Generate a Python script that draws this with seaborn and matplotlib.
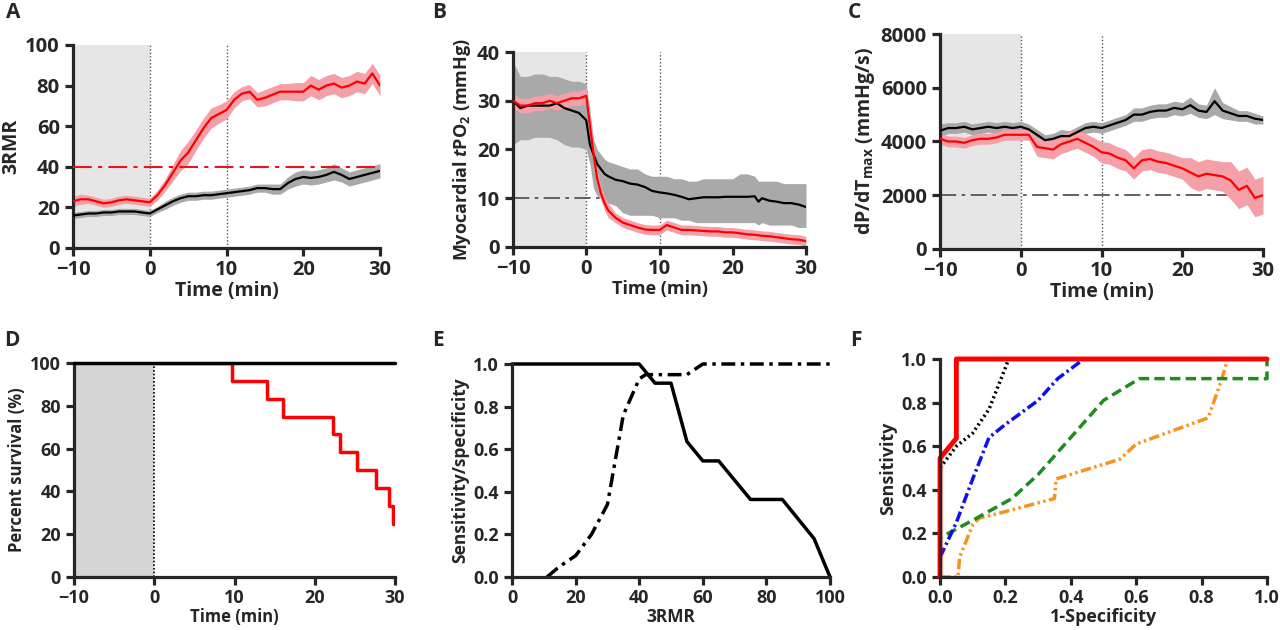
import matplotlib
matplotlib.use("Agg")
import matplotlib.pyplot as plt
import seaborn as sns

# ---- Data ----
# A: 3RMR over time (mean and SEM half-width)
t_a = [-10, -9, -8, -7, -6, -5, -4, -3, -2, -1, 0, 1, 2, 3, 4, 5, 6, 7, 8, 9, 10,
       11, 12, 13, 14, 15, 16, 17, 18, 19, 20, 21, 22, 23, 24, 25, 26, 27, 28, 29, 30]
red_a = [23, 24, 24, 23, 22, 22.5, 23.5, 24, 23.5, 23, 22.5, 26, 31, 37, 43, 47, 53, 59, 64, 66, 68,
         73, 76, 77, 73, 74, 75.5, 77, 77, 77, 77, 80, 78, 80, 81, 79, 80, 82, 81, 86, 80]
red_a_err = [2.5, 2.5, 2, 2, 2, 2, 2, 2, 2, 2, 2, 2.5, 3, 4, 5, 5.5, 5, 5, 5, 4.5, 4.5,
             4, 3.5, 3.5, 3.5, 4, 4, 4, 4, 4.5, 4.5, 5, 5, 5, 5, 5, 5, 5, 5, 5, 5]
black_a = [16, 16.5, 17, 17, 17.5, 17.5, 18, 18, 18, 17.5, 17, 19, 21, 23, 24.5, 25.5, 25.5, 26, 26, 26.5, 27,
           27.5, 28, 28.5, 29.5, 29.5, 29, 29, 32, 34, 35, 34.5, 35, 36, 37.5, 36, 34, 35, 36, 37, 38]
black_a_err = [1.5, 1.5, 1.5, 1.5, 1.5, 1.5, 1.5, 1.5, 1.5, 1.5, 1.5, 1.5, 2, 2, 2, 2, 2, 2, 2, 2, 2,
               2, 2, 2, 2, 2, 2.5, 2.5, 3, 3.5, 3.5, 3.5, 3.5, 3.5, 4, 3.5, 3.5, 3.5, 3.5, 3.5, 3.5]

# B: myocardial tPO2
t_b = [-10, -9, -8, -7, -6, -5, -4, -3, -2, -1, 0, 0.5, 1, 1.5, 2, 2.5, 3, 4, 5, 6, 7, 8, 9, 10,
       11, 12, 13, 14, 15, 16, 17, 18, 19, 20, 21, 22, 23, 23.5, 24, 25, 26, 27, 28, 29, 30]
black_b = [30, 28.5, 29, 29, 29, 29, 29.5, 28.5, 28, 27.5, 26, 21, 19, 17, 16, 15, 14.5, 13.8, 13.5, 13, 12.8,
           12.3, 11.5, 11.2, 11, 10.7, 10.3, 9.8, 10, 10.2, 10.2, 10.2, 10.3, 10.3, 10.3, 10.3, 10.4, 9.3,
           10, 9.5, 9.3, 9, 9, 8.7, 8.2]
black_b_lo = [21, 22, 22, 22.5, 22.5, 22.5, 22, 21, 20.5, 20.5, 20, 17, 12, 10.5, 10, 9.5, 9, 8.5, 7, 6.5, 6.5,
              6.5, 6.5, 6, 6, 6, 5.5, 5.5, 5, 5, 5, 5, 5, 5, 5, 5, 5, 4.5, 5, 4.5, 4.5, 4.5, 4.5, 4, 4]
black_b_hi = [38, 35, 35, 35.5, 35.5, 35, 35, 34.5, 34, 34, 33.5, 28, 22, 20, 19, 18, 17.5, 17, 16.5, 16, 16,
              15, 14.5, 14.5, 14.5, 14, 14, 13.5, 13.5, 14, 14, 14, 14, 14, 15, 15, 14.5, 13.5, 13.5, 13.5,
              13.5, 13, 13, 13, 13]
red_b = [30, 29, 29, 29.5, 29.5, 30, 29.5, 30, 30.5, 30.5, 31, 25, 19, 14, 11, 9, 7.5, 6, 5, 4.5, 4,
         3.6, 3.5, 3.5, 4.5, 4, 3.5, 3.5, 3.4, 3.3, 3.2, 3.2, 3, 3, 2.8, 2.6, 2.5, 2.4, 2.3, 2.2, 2,
         1.8, 1.6, 1.5, 1.2]
red_b_err = [1.5, 1.5, 1.5, 1.5, 1.5, 1.5, 1.5, 1.5, 1.5, 1.5, 1.5, 2, 2, 2, 1.5, 1.5, 1.5, 1, 1, 1, 1,
             1, 1, 1, 1, 1, 1, 1, 1, 1, 1, 1, 1, 1, 1, 1, 1, 1, 1, 1, 1, 1, 1, 1, 1]

# C: dP/dTmax
t_c = t_a
black_c = [4400, 4500, 4500, 4550, 4450, 4500, 4550, 4500, 4550, 4500, 4550, 4450, 4250, 4050, 4100, 4200,
           4200, 4350, 4500, 4550, 4500, 4600, 4700, 4800, 5000, 5000, 5100, 5150, 5150, 5250, 5200, 5350,
           5150, 5100, 5500, 5150, 5050, 4950, 4950, 4850, 4800]
black_c_err = [250, 200, 200, 200, 200, 200, 200, 200, 200, 200, 200, 200, 200, 200, 200, 250, 200, 200, 200,
               200, 200, 200, 200, 200, 250, 250, 250, 250, 250, 250, 250, 300, 250, 250, 500, 300, 250, 200,
               200, 200, 150]
red_c = [4100, 4000, 4000, 3950, 4050, 4100, 4100, 4150, 4250, 4250, 4250, 4250, 3800, 3750, 3700, 3900, 4000,
         4100, 3950, 3800, 3600, 3550, 3400, 3300, 3000, 3300, 3350, 3250, 3200, 3100, 3000, 2850, 2700, 2800,
         2750, 2700, 2550, 2200, 2350, 1900, 2000]
red_c_err = [200, 200, 200, 200, 200, 200, 200, 200, 200, 200, 200, 200, 350, 350, 350, 350, 350, 350, 350,
             350, 400, 400, 400, 400, 400, 400, 400, 400, 400, 400, 400, 550, 550, 550, 550, 550, 700, 700,
             700, 700, 700]

# D: survival
surv_t_black = [-10, 30]
surv_black = [100, 100]
surv_t_red = [0, 9.7, 14, 16, 22.3, 23.2, 25.3, 27.6, 29.3, 29.7, 30]
surv_red = [100, 91.7, 83.3, 75, 66.7, 58.3, 50, 41.7, 33.3, 25, 25]

# E: sensitivity / specificity vs 3RMR
sens_x = [0, 40, 45, 50, 55, 60, 65, 75, 85, 95, 100]
sens_y = [1, 1, 0.91, 0.91, 0.636, 0.545, 0.545, 0.364, 0.364, 0.18, 0]
spec_x = [11, 15, 20, 25, 30, 35, 40, 42, 55, 60, 100]
spec_y = [0, 0.05, 0.1, 0.2, 0.34, 0.76, 0.93, 0.95, 0.95, 1.0, 1.0]

# F: ROC curves
roc_red_x = [0, 0, 0.05, 0.05, 1]
roc_red_y = [0, 0.545, 0.636, 1.0, 1.0]
roc_black_x = [0, 0, 0.05, 0.1, 0.15, 0.2, 0.21, 1]
roc_black_y = [0, 0.5, 0.6, 0.66, 0.77, 0.96, 1.0, 1.0]
roc_blue_x = [0, 0.05, 0.1, 0.15, 0.2, 0.3, 0.36, 0.44, 1]
roc_blue_y = [0.09, 0.25, 0.45, 0.64, 0.7, 0.81, 0.91, 1.0, 1.0]
roc_green_x = [0, 0, 0.05, 0.1, 0.22, 0.3, 0.4, 0.5, 0.61, 1, 1]
roc_green_y = [0, 0.18, 0.22, 0.26, 0.36, 0.47, 0.64, 0.81, 0.91, 0.91, 1.0]
roc_orange_x = [0, 0.055, 0.06, 0.1, 0.12, 0.2, 0.35, 0.355, 0.55, 0.6, 0.82, 0.86, 0.88, 1]
roc_orange_y = [0, 0, 0.09, 0.24, 0.27, 0.3, 0.36, 0.45, 0.54, 0.61, 0.73, 0.9, 1.0, 1.0]

# ---- Style ----
sns.set_style("ticks")
FONT = 'Open Sans'
plt.rcParams['font.family'] = [FONT, 'DejaVu Sans']
plt.rcParams['font.weight'] = 'bold'
plt.rcParams['axes.labelweight'] = 'bold'
plt.rcParams['mathtext.fontset'] = 'custom'
plt.rcParams['mathtext.rm'] = FONT + ':bold'
plt.rcParams['mathtext.it'] = FONT + ':bold:italic'
plt.rcParams['mathtext.bf'] = FONT + ':bold'

RED = '#ff0000'
PINK = '#f4a0a8'
GREY_BAND = '#a9a9a9'
SHADE = '#e6e6e6'

fig = plt.figure(figsize=(12.8, 6.3), dpi=100)


def px_axes(left, top, right, bottom):
    W, H = 1280, 630
    return fig.add_axes([left / W, 1 - bottom / H, (right - left) / W, (bottom - top) / H])


def style(ax, xlim, ylim, xticks, yticks, xlabel, ylabel, fs_tick=14, fs_lab=13, fmt=None):
    ax.set_xlim(xlim)
    ax.set_ylim(ylim)
    ax.set_xticks(xticks)
    ax.set_yticks(yticks)
    if fmt:
        ax.set_xticklabels([fmt.format(v) for v in xticks])
        ax.set_yticklabels([fmt.format(v) for v in yticks])
    sns.despine(ax=ax)
    for s in ['left', 'bottom']:
        ax.spines[s].set_linewidth(2.3)
    ax.tick_params(width=2.3, length=6, labelsize=fs_tick)
    ax.tick_params(axis='x', pad=2.5)
    ax.tick_params(axis='y', pad=3.5)
    for lab in ax.get_xticklabels() + ax.get_yticklabels():
        lab.set_fontweight('bold')
    ax.set_xlabel(xlabel, fontsize=fs_lab, fontweight='bold', labelpad=1)
    ax.set_ylabel(ylabel, fontsize=fs_lab, fontweight='bold', labelpad=3)


def band(ax, t, mean, err, line_color, band_color):
    lo = [m - e for m, e in zip(mean, err)]
    hi = [m + e for m, e in zip(mean, err)]
    ax.fill_between(t, lo, hi, color=band_color, lw=0, zorder=2)
    sns.lineplot(x=t, y=mean, ax=ax, color=line_color, lw=1.6, zorder=3)


def timemarks(ax, ytop):
    ax.axvspan(-10, 0, color=SHADE, lw=0, zorder=0)
    for xv in (0, 10):
        ax.plot([xv, xv], [0, ytop], ls=(0, (1, 1.5)), color='#555555', lw=1.0, zorder=1)


DASHDOT = (0, (9, 3, 2, 3))

# A
axA = px_axes(73, 45, 380, 248)
timemarks(axA, 100)
band(axA, t_a, black_a, black_a_err, 'black', GREY_BAND)
band(axA, t_a, red_a, red_a_err, RED, PINK)
axA.plot([-10, 30], [40, 40], color='#e8141c', ls=DASHDOT, lw=1.5, zorder=4)
style(axA, (-10, 30), (0, 100), [-10, 0, 10, 20, 30], [0, 20, 40, 60, 80, 100], 'Time (min)', '3RMR',
      fs_tick=14.5, fs_lab=14)

# B
axB = px_axes(513, 52, 806, 247)
timemarks(axB, 40)
axB.plot([-10, 30], [10, 10], color='#555555', ls=DASHDOT, lw=1.3, zorder=1)
axB.fill_between(t_b, black_b_lo, black_b_hi, color=GREY_BAND, lw=0, zorder=2)
sns.lineplot(x=t_b, y=black_b, ax=axB, color='black', lw=1.6, zorder=3)
band(axB, t_b, red_b, red_b_err, RED, PINK)
style(axB, (-10, 30), (0, 40), [-10, 0, 10, 20, 30], [0, 10, 20, 30, 40], 'Time (min)',
      r'Myocardial $\mathit{t}$PO$_\mathrm{2}$ (mmHg)', fs_tick=14.5, fs_lab=13)

# C
axC = px_axes(940, 34, 1263, 249)
timemarks(axC, 8000)
axC.plot([-10, 30], [2000, 2000], color='#555555', ls=DASHDOT, lw=1.3, zorder=1)
band(axC, t_c, black_c, black_c_err, 'black', GREY_BAND)
band(axC, t_c, red_c, red_c_err, RED, PINK)
style(axC, (-10, 30), (0, 8000), [-10, 0, 10, 20, 30], [0, 2000, 4000, 6000, 8000], 'Time (min)',
      r'dP/dT$_\mathrm{max}$ (mmHg/s)', fs_tick=14.5, fs_lab=14)

# D
axD = px_axes(74, 363, 395, 577)
axD.axvspan(-10, 0, color='#d6d6d6', lw=0, zorder=0)
axD.plot([0, 0], [0, 100], ls=(0, (1, 1.2)), color='black', lw=1.2, zorder=1)
sns.lineplot(x=surv_t_red, y=surv_red, ax=axD, color=RED, lw=2.5, drawstyle='steps-post',
             estimator=None, sort=False, zorder=3)
sns.lineplot(x=surv_t_black, y=surv_black, ax=axD, color='black', lw=2.5, estimator=None,
             sort=False, zorder=4, clip_on=False)
style(axD, (-10, 30), (0, 100), [-10, 0, 10, 20, 30], [0, 20, 40, 60, 80, 100], 'Time (min)',
      'Percent survival (%)', fs_tick=13, fs_lab=12)

# E
DD_E = (0, (4, 1.6, 1, 1.6))
axE = px_axes(512, 364, 830, 577)
sns.lineplot(x=sens_x, y=sens_y, ax=axE, color='black', lw=2.5, estimator=None, sort=False,
             clip_on=False)
sns.lineplot(x=spec_x, y=spec_y, ax=axE, color='black', lw=2.5, ls=DD_E, estimator=None,
             sort=False, clip_on=False)
style(axE, (0, 100), (0, 1), [0, 20, 40, 60, 80, 100], [0, 0.2, 0.4, 0.6, 0.8, 1.0], '3RMR',
      'Sensitivity/specificity', fs_tick=13, fs_lab=12.5)
axE.set_yticklabels(['{:.1f}'.format(v) for v in [0, 0.2, 0.4, 0.6, 0.8, 1.0]], fontweight='bold')

# F
axF = px_axes(940, 359, 1267, 577)
roc_lines = [
    (roc_orange_x, roc_orange_y, '#f7941d', (0, (3, 1, 0.7, 1, 0.7, 1)), 2.5),
    (roc_green_x, roc_green_y, '#1e8c1e', (0, (3, 1.5)), 2.5),
    (roc_blue_x, roc_blue_y, '#1010ee', (0, (3, 1, 0.7, 1)), 2.5),
    (roc_black_x, roc_black_y, 'black', (0, (0.6, 0.9)), 2.5),
    (roc_red_x, roc_red_y, RED, '-', 3.5),
]
for xs, ys, c, ls, lw in roc_lines:
    sns.lineplot(x=xs, y=ys, ax=axF, color=c, ls=ls, lw=lw, estimator=None, sort=False,
                 clip_on=False)
style(axF, (0, 1), (0, 1), [0, 0.2, 0.4, 0.6, 0.8, 1.0], [0, 0.2, 0.4, 0.6, 0.8, 1.0],
      '1-Specificity', 'Sensitivity', fs_tick=13, fs_lab=13, fmt='{:.1f}')

# panel letters
for letter, x, y in [('A', 6, 2), ('B', 432, 2), ('C', 848, 2),
                     ('D', 4, 330), ('E', 432, 330), ('F', 850, 330)]:
    fig.text(x / 1280, 1 - y / 630, letter, fontsize=15, fontweight='bold', va='top', ha='left')

fig.savefig('out.png', dpi=100, facecolor='white')
